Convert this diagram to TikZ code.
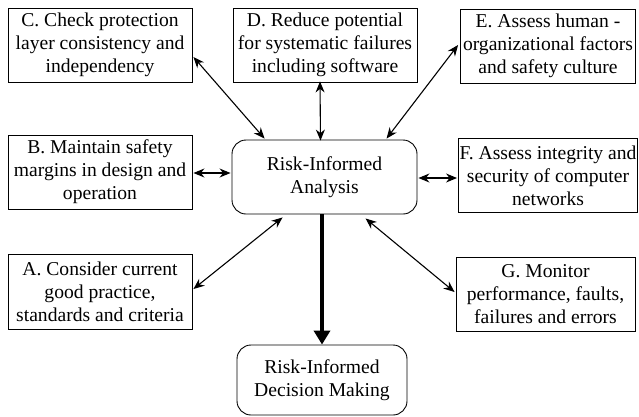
\documentclass[tikz,border=0pt]{standalone}
\usepackage{fontspec}
\setmainfont{Liberation Serif}
\usetikzlibrary{calc,arrows.meta}
\begin{document}
\begin{tikzpicture}[x=1pt,y=-1pt,
  txt/.style={font=\fontsize{19.6}{23}\selectfont,align=center,inner sep=0pt},
  goal/.style={txt,draw,line width=0.9pt,minimum height=74pt},
  hub/.style={txt,draw,line width=0.9pt,rounded corners=14pt},
  link/.style={line width=1.1pt,{Stealth[length=11pt,width=9pt]}-{Stealth[length=11pt,width=9pt]}},
  flow/.style={line width=4pt,-{Stealth[length=14pt,width=16pt,inset=0pt]}}]
\useasboundingbox (0,0) rectangle (639,416);
% surrounding goal boxes
\node[goal,minimum width=184pt] (C) at (100,45)
  {C. Check protection\\layer consistency and\\independency};
\node[goal,minimum width=184pt] (D) at (325,45)
  {D. Reduce potential\\for systematic failures\\including software};
\node[goal,minimum width=175pt] (E) at (548,46)
  {E. Assess human -\\organizational factors\\and safety culture};
\node[goal,minimum width=184pt] (B) at (100,172)
  {B. Maintain safety\\margins in design and\\operation};
\node[goal,minimum width=179pt] (F) at (548,175.5)
  {F. Assess integrity and\\security of computer\\networks};
\node[goal,minimum width=184pt,minimum height=75pt] (A) at (100,291.5)
  {A. Consider current\\good practice,\\standards and criteria};
\node[goal,minimum width=179pt] (G) at (545.5,294)
  {G. Monitor\\performance, faults,\\failures and errors};
% central analysis and resulting decision
\node[hub,minimum width=185pt,minimum height=74pt] (R) at (324.5,177)
  {Risk-Informed\\Analysis};
\node[hub,minimum width=170pt,minimum height=70pt] (M) at (322,380)
  {Risk-Informed\\Decision Making};
% two-way links
\draw[link] ($(C.east)+(1,12)$) -- ($(R.north west)+(33,-1)$);
\draw[link] ($(D.south)+(-5,-1)$) -- ($(R.north)+(-4,1)$);
\draw[link] ($(E.west)+(-2,-1)$) -- ($(R.north west)+(155,-1)$);
\draw[link] ($(B.east)+(1,1)$) -- ($(R.west)+(-1,-4)$);
\draw[link] ($(R.east)+(1,1)$) -- ($(F.west)+(-1,2.5)$);
\draw[link] ($(A.east)+(1,-2.5)$) -- ($(R.south west)+(51,3)$);
\draw[link] ($(R.south west)+(134,4)$) -- ($(G.west)+(-1,-2)$);
% main flow
\draw[flow] (R.south -| M.north) -- (M.north);
\end{tikzpicture}
\end{document}
